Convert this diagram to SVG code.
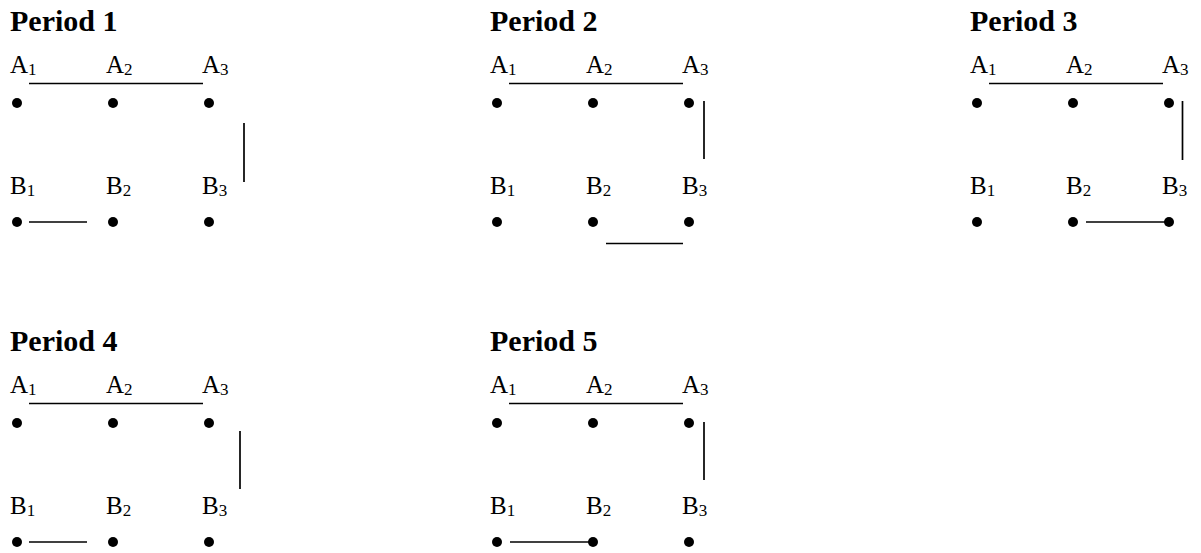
<svg xmlns="http://www.w3.org/2000/svg" width="1201" height="553" viewBox="0 0 1201 553">
<style>
.t{font-family:"Liberation Serif","Times New Roman",serif;font-size:30px;font-weight:bold;fill:#000}
.l{font-family:"Liberation Serif","Times New Roman",serif;font-size:25px;fill:#000}
.s{font-size:17px}
.d{fill:#000}
.c line{stroke:#000;stroke-width:1.7}
</style>
<defs>
<g id="grid">
<text class="l" x="10" y="73">A<tspan class="s" dy="1.5">1</tspan></text>
<text class="l" x="106" y="73">A<tspan class="s" dy="1.5">2</tspan></text>
<text class="l" x="202" y="73">A<tspan class="s" dy="1.5">3</tspan></text>
<text class="l" x="10" y="194">B<tspan class="s" dy="1.5">1</tspan></text>
<text class="l" x="106" y="194">B<tspan class="s" dy="1.5">2</tspan></text>
<text class="l" x="202" y="194">B<tspan class="s" dy="1.5">3</tspan></text>
<circle class="d" cx="17" cy="103" r="5"/>
<circle class="d" cx="113" cy="103" r="5"/>
<circle class="d" cx="209" cy="103" r="5"/>
<circle class="d" cx="17" cy="222" r="5"/>
<circle class="d" cx="113" cy="222" r="5"/>
<circle class="d" cx="209" cy="222" r="5"/>
</g>
</defs>
<g id="period1">
<text class="t" x="10" y="31">Period 1</text>
<use href="#grid"/>
</g>
<g id="period2" transform="translate(480,0)">
<text class="t" x="10" y="31">Period 2</text>
<use href="#grid"/>
</g>
<g id="period3" transform="translate(960,0)">
<text class="t" x="10" y="31">Period 3</text>
<use href="#grid"/>
</g>
<g id="period4" transform="translate(0,320)">
<text class="t" x="10" y="31">Period 4</text>
<use href="#grid"/>
</g>
<g id="period5" transform="translate(480,320)">
<text class="t" x="10" y="31">Period 5</text>
<use href="#grid"/>
</g>
<g id="connectors" class="c">
<line x1="29" y1="83.5" x2="203" y2="83.5"/>
<line x1="244" y1="123" x2="244" y2="182"/>
<line x1="29" y1="222" x2="87" y2="222"/>
<line x1="509" y1="83.5" x2="683" y2="83.5"/>
<line x1="704" y1="101" x2="704" y2="159"/>
<line x1="606" y1="243.5" x2="683" y2="243.5"/>
<line x1="989" y1="83.5" x2="1163" y2="83.5"/>
<line x1="1182.5" y1="101" x2="1182.5" y2="160"/>
<line x1="1086" y1="222" x2="1166" y2="222"/>
<line x1="29" y1="403.5" x2="203" y2="403.5"/>
<line x1="240" y1="431" x2="240" y2="489"/>
<line x1="29" y1="542" x2="87" y2="542"/>
<line x1="509" y1="403.5" x2="683" y2="403.5"/>
<line x1="704" y1="422" x2="704" y2="480"/>
<line x1="510" y1="542" x2="590" y2="542"/>
</g>
</svg>
